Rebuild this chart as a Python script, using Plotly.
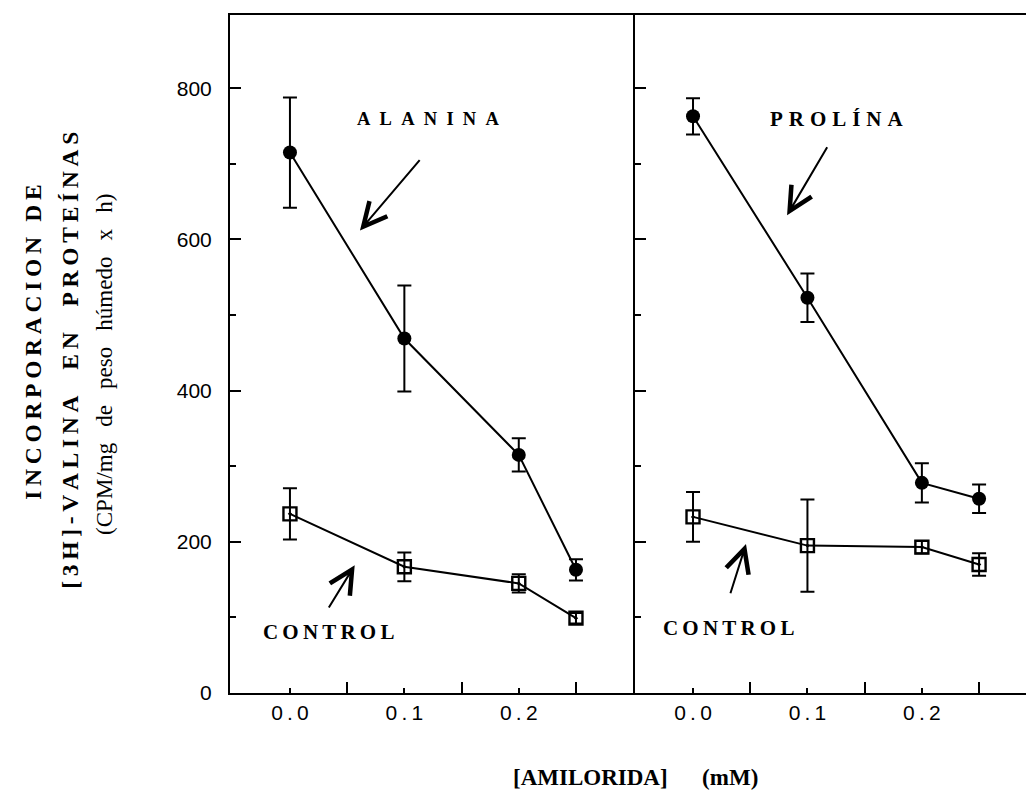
import plotly.graph_objects as go

# Amiloride concentration (mM)
amilorida = [0.0, 0.1, 0.2, 0.25]

# Left panel: alanine vs control
alanina = [715, 469, 315, 163]
alanina_err = [73, 70, 22, 14]
control_ala = [237, 167, 145, 99]
control_ala_err = [34, 19, 12, 7]

# Right panel: proline vs control
prolina = [763, 523, 278, 257]
prolina_err = [24, 32, 26, 19]
control_pro = [233, 195, 193, 170]
control_pro_err = [33, 61, 8, 15]

y_ticks = [0, 200, 400, 600, 800]
x_ticks = [0.0, 0.1, 0.2]
x_ticktext = ["0\u2009.\u20090", "0\u2009.\u20091", "0\u2009.\u20092"]

SERIF = "Liberation Serif, Times New Roman, serif"
SANS = "Liberation Sans, Arial, sans-serif"


def spaced(s, sep="\u2009"):
    return sep.join(s)


fig = go.Figure()


def add_pair(xa, ya, active, active_err, ctrl, ctrl_err):
    fig.add_trace(go.Scatter(
        x=amilorida, y=active, xaxis=xa, yaxis=ya, mode="lines+markers",
        line=dict(color="black", width=2),
        marker=dict(symbol="circle", size=14, color="black"),
        error_y=dict(type="data", array=active_err, color="black",
                     thickness=2, width=7),
        showlegend=False))
    fig.add_trace(go.Scatter(
        x=amilorida, y=ctrl, xaxis=xa, yaxis=ya, mode="lines+markers",
        line=dict(color="black", width=2),
        marker=dict(symbol="square-open-dot", size=13, color="black",
                    line=dict(width=2.4, color="black")),
        error_y=dict(type="data", array=ctrl_err, color="black",
                     thickness=2, width=7),
        showlegend=False))


add_pair("x", "y", alanina, alanina_err, control_ala, control_ala_err)
add_pair("x2", "y2", prolina, prolina_err, control_pro, control_pro_err)

split = 0.5088
xcommon = dict(
    showline=True, linecolor="black", linewidth=2, mirror=True,
    ticks="inside", ticklen=5, tickwidth=2, tickcolor="black",
    tickvals=x_ticks, ticktext=x_ticktext,
    tickfont=dict(family=SANS, size=21, color="black"),
    minor=dict(tickvals=[0.05, 0.15, 0.25], ticks="inside", ticklen=11,
               tickwidth=2, tickcolor="black"),
    showgrid=False, zeroline=False, fixedrange=True,
)
ycommon = dict(
    range=[0, 897], showline=True, linecolor="black", linewidth=2,
    ticks="inside", ticklen=11, tickwidth=2, tickcolor="black",
    tickvals=y_ticks,
    minor=dict(tickvals=[100, 300, 500, 700], ticks="inside", ticklen=6,
               tickwidth=1.5, tickcolor="black"),
    showgrid=False, zeroline=False, fixedrange=True,
)

fig.update_layout(
    width=1026, height=795,
    margin=dict(l=230, r=0, t=15, b=102),
    paper_bgcolor="white", plot_bgcolor="white",
    xaxis=dict(domain=[0, split], range=[-0.0524, 0.3016], anchor="y",
               **xcommon),
    xaxis2=dict(domain=[split, 1], range=[-0.0507, 0.291], anchor="y2",
                **xcommon),
    yaxis=dict(anchor="x", showticklabels=True,
               tickfont=dict(family=SANS, size=21, color="black"),
               ticklabelstandoff=12, **ycommon),
    yaxis2=dict(anchor="x2", showticklabels=False, matches="y", **ycommon),
)

annotations = []


def label(text, x, y, xref, yref, size, bold=True, angle=0):
    annotations.append(dict(
        text=f"<b>{text}</b>" if bold else text, x=x, y=y, xref=xref,
        yref=yref, showarrow=False, textangle=angle,
        font=dict(family=SERIF, size=size, color="black"),
        xanchor="center", yanchor="middle"))


def arrow(xref, yref, x_head, y_head, x_tail, y_tail):
    annotations.append(dict(
        text="", x=x_head, y=y_head, ax=x_tail, ay=y_tail,
        xref=xref, yref=yref, axref=xref, ayref=yref,
        showarrow=True, arrowhead=5, arrowsize=2.3, arrowwidth=2,
        arrowcolor="black", standoff=0, startstandoff=0))


label(spaced("ALANINA", "\u2002"), 0.121, 759, "x", "y", 18.5)
arrow("x", "y", 0.0612, 612, 0.1145, 707)
label(spaced("CONTROL", "\u2009"), 0.034, 81, "x", "y", 21)
arrow("x", "y", 0.0566, 169, 0.0332, 111)

label(spaced("PROLÍNA", "\u2009\u200a"), 0.1254, 760, "x2", "y2", 21)
arrow("x2", "y2", 0.0822, 632, 0.118, 724)
label(spaced("CONTROL", "\u2009"), 0.031, 86, "x2", "y2", 21)
arrow("x2", "y2", 0.0463, 197, 0.0323, 130)

# Y-axis title, three rotated lines
gap = "\u2002\u2009"
label(spaced("INCORPORACION DE", "\u2009"), -0.2475, 0.518, "paper", "paper", 23.5, angle=-90)
label(spaced("[3H]-VALINA  EN  PROTEÍNAS", "\u2009"), -0.201, 0.49, "paper", "paper", 23.5, angle=-90)
label(gap.join(["(CPM/mg", "de", "peso", "húmedo", "x", "h)"]),
      -0.157, 0.484, "paper", "paper", 23, bold=False, angle=-90)

# X-axis title
label("[AMILORIDA]\u2003\u2002(mM)", 0.5088, -0.125, "paper", "paper", 23)

fig.update_layout(annotations=annotations)

fig.write_html("out.html")
